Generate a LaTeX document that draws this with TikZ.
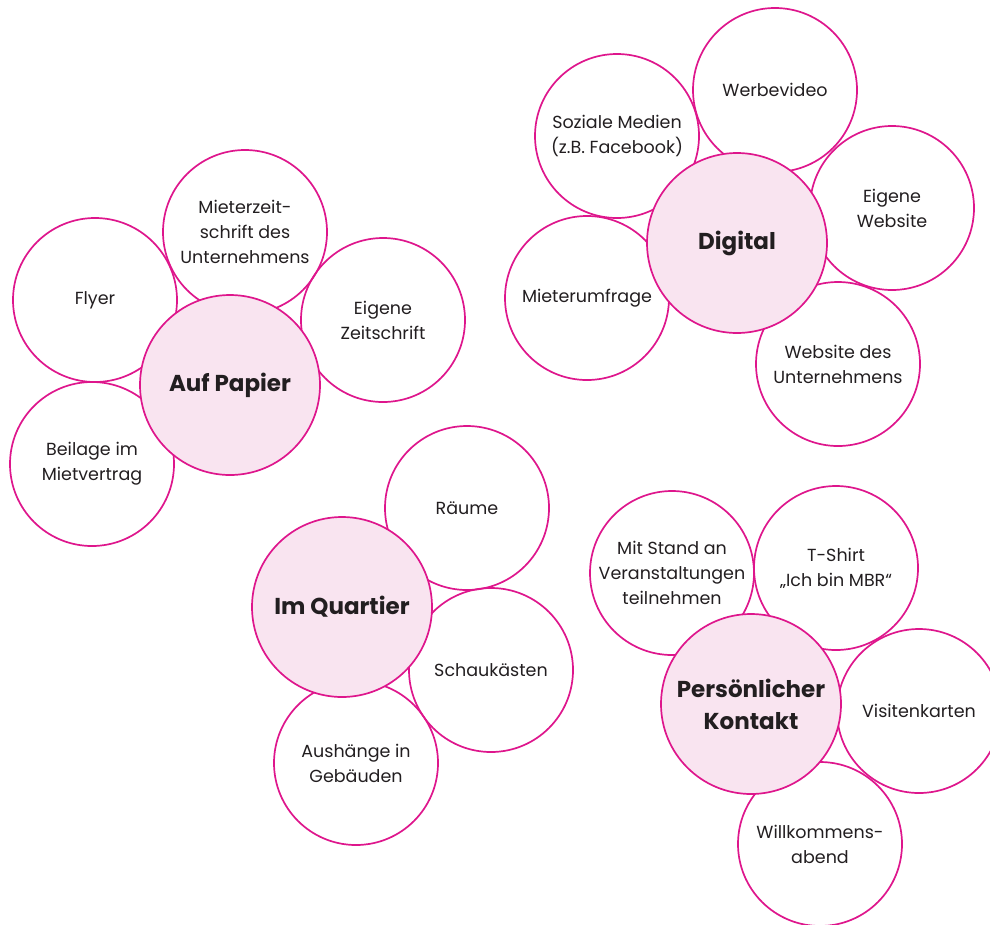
\documentclass[tikz,border=0pt]{standalone}
\usepackage{fontspec}
\setmainfont{Poppins}
\definecolor{mag}{RGB}{222,22,140}
\definecolor{pinkfill}{RGB}{249,228,240}
\definecolor{txt}{RGB}{34,30,32}
\tikzset{
  sat/.style={circle, draw=mag, line width=1.7pt, minimum size=164pt, inner sep=0pt,
    align=center, text=txt, font=\fontsize{17.5}{25}\selectfont},
  hub/.style={circle, draw=mag, fill=pinkfill, line width=1.7pt, minimum size=180pt, inner sep=0pt,
    align=center, text=txt, font=\fontsize{23}{32}\selectfont\bfseries}
}
\begin{document}
\begin{tikzpicture}[x=1pt,y=-1pt]
\useasboundingbox (0,0) rectangle (990,924);
\clip (0,0) rectangle (990,924);
% Auf Papier
\node[sat] (flyer) at (95,300) {Flyer};
\node[sat] (mzs) at (245,232) {Mieterzeit-\\schrift des\\Unternehmens};
\node[sat] (ezs) at (383,320) {Eigene\\Zeitschrift};
\node[sat] (beil) at (92,464) {Beilage im\\Mietvertrag};
\node[hub] (papier) at (230,385) {Auf Papier};
% Digital
\node[sat] (soz) at (617,136) {Soziale Medien\\(z.B. Facebook)};
\node[sat] (werb) at (775,90) {Werbevideo};
\node[sat] (ews) at (892,208) {Eigene\\Website};
\node[sat] (umfr) at (587,298) {Mieterumfrage};
\node[sat] (wsu) at (838,364) {Website des\\Unternehmens};
\node[hub] (digital) at (737,243) {Digital};
% Im Quartier
\node[sat] (raeume) at (467,508) {Räume};
\node[sat] (schau) at (491,670) {Schaukästen};
\node[sat] (aush) at (356,763) {Aushänge in\\Gebäuden};
\node[hub] (quartier) at (342,607) {Im Quartier};
% Persoenlicher Kontakt
\node[sat] (stand) at (672,573) {Mit Stand an\\Veranstaltungen\\teilnehmen};
\node[sat] (shirt) at (836,568) {T-Shirt\\„Ich bin MBR“};
\node[sat] (visit) at (919,711) {Visitenkarten};
\node[sat] (willk) at (820,844) {Willkommens-\\abend};
\node[hub] (kontakt) at (751,704) {Persönlicher\\Kontakt};
\end{tikzpicture}
\end{document}
